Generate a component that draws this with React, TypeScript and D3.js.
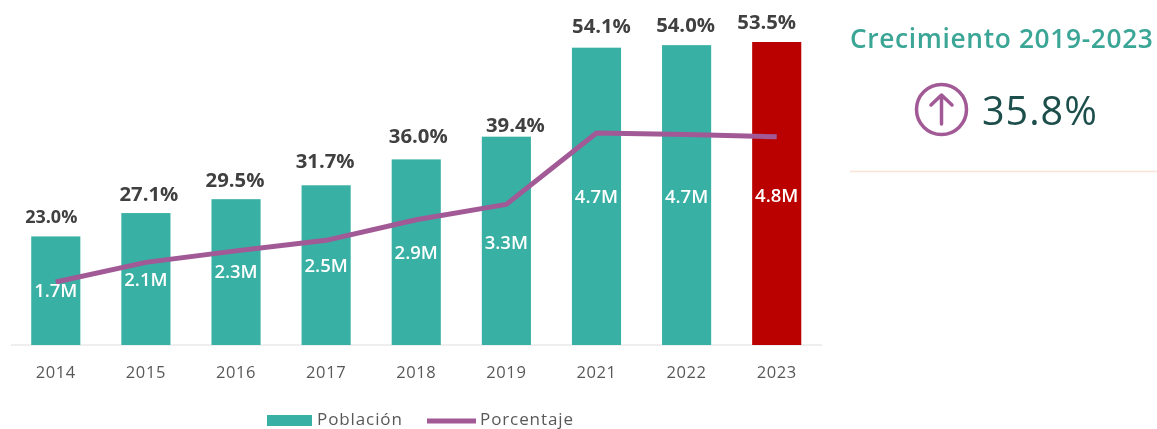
import React from "react";
import * as d3 from "d3";

const years = ["2014","2015","2016","2017","2018","2019","2021","2022","2023"];
const population = [1.72,2.09,2.31,2.53,2.94,3.3,4.71,4.75,4.8];
const populationLabels = ["1.7M","2.1M","2.3M","2.5M","2.9M","3.3M","4.7M","4.7M","4.8M"];
const percent = [23.0,27.1,29.5,31.7,36.0,39.2,54.1,53.8,53.3];
const percentLabels = ["23.0%","27.1%","29.5%","31.7%","36.0%","39.4%","54.1%","54.0%","53.5%"];
const legendNames = ["Población","Porcentaje"];
const title = "Crecimiento 2019-2023";
const growth = "35.8%";
const highlightYear = "2023";

const TEAL = "#37b0a4", RED = "#bb0000", PURPLE = "#a25a96", FONT = "'Open Sans', sans-serif";
const labelDx = [-4.5,3,-1,-1,2,9,5,-1,-10];
const labelDy = [-13,-12,-12,-17,-16,-5,-14.5,-13,-13];
const labelSize = [18,20.3,20.3,20.3,20.3,20.3,20.3,20.3,20.3];
const popLabelY = [297,286,278,272,259,249,203,203,202];

export default function App() {
  const x = d3.scaleBand().domain(years).range([10.5, 822]).paddingInner(0.455).paddingOuter(0.23);
  const yBar = d3.scaleLinear().domain([0, 4.8]).range([345, 42]);
  const yLine = d3.scaleLinear().domain([23, 54.1]).range([282, 133]);
  const cx = (y: string) => (x(y) as number) + x.bandwidth() / 2;
  const line = d3.line<number>().x((_, i) => cx(years[i])).y(d => yLine(d));
  return (
    <svg width={1157} height={429} style={{ position: "absolute", left: 0, top: 0, background: "#fff" }} fontFamily={FONT}>
      <defs>
        <filter id="soft" x="-2%" y="-2%" width="104%" height="104%"><feGaussianBlur stdDeviation="0.65" /></filter>
      </defs>
      <g filter="url(#soft)">
        <line x1={11} x2={822} y1={345} y2={345} stroke="#dedede" strokeWidth={1} />
        {years.map((y, i) => (
          <rect key={y} x={x(y)} y={yBar(population[i])} width={x.bandwidth()} height={345 - yBar(population[i])} fill={y === highlightYear ? RED : TEAL} />
        ))}
        <path d={line(percent) as string} fill="none" stroke={PURPLE} strokeWidth={5} strokeLinejoin="round" />
        {years.map((y, i) => (
          <text key={y} x={cx(y)} y={popLabelY[i]} textAnchor="middle" fontSize={18.5} fontWeight={600} fill="#fff">{populationLabels[i]}</text>
        ))}
        {years.map((y, i) => (
          <text key={y} x={cx(y) + labelDx[i]} y={yBar(population[i]) + labelDy[i]} textAnchor="middle" fontSize={labelSize[i]} fontWeight={700} fill="#404040">{percentLabels[i]}</text>
        ))}
        {years.map(y => (
          <text key={y} x={cx(y)} y={378} textAnchor="middle" fontSize={16.5} fill="#595959" letterSpacing={0.6}>{y}</text>
        ))}
        <rect x={267} y={415} width={45} height={11} fill={TEAL} />
        <text x={317} y={425} fontSize={17} fill="#595959" letterSpacing={0.9}>{legendNames[0]}</text>
        <line x1={427} x2={476} y1={421} y2={421} stroke={PURPLE} strokeWidth={5} />
        <text x={480} y={425} fontSize={17} fill="#595959" letterSpacing={0.9}>{legendNames[1]}</text>

        <text x={850} y={48} fontSize={26.3} fontWeight={600} fill="#3aa596" letterSpacing={0.65}>{title}</text>
        <circle cx={941.5} cy={109.5} r={25} fill="none" stroke={PURPLE} strokeWidth={3.5} />
        <path d="M941.5 124V95M931 105L941.5 95L952 105" fill="none" stroke={PURPLE} strokeWidth={3.5} strokeLinecap="round" strokeLinejoin="round" />
        <text x={982} y={125} fontSize={39.5} fontWeight={500} fill="#1f4f4c" letterSpacing={1}>{growth}</text>
        <line x1={850} x2={1157} y1={171.5} y2={171.5} stroke="#fce3d8" strokeWidth={1.5} />
      </g>
    </svg>
  );
}
